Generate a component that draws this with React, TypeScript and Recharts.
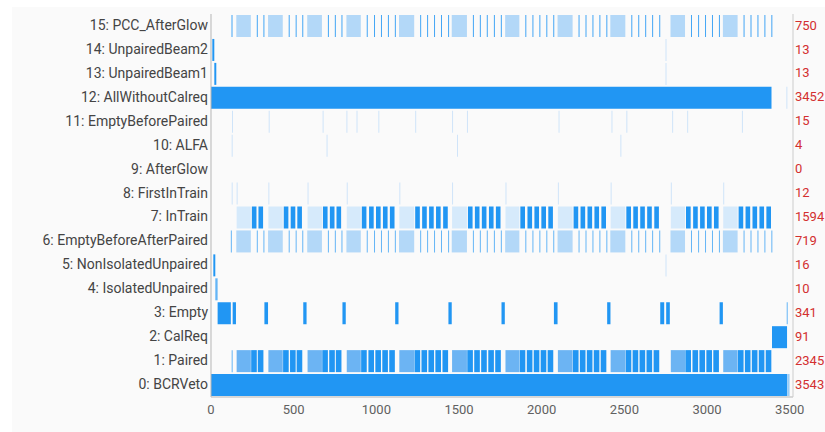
import { BarChart, Bar, Cell, XAxis, YAxis } from 'recharts';

const ROW_NAMES = [
  '0: BCRVeto', '1: Paired', '2: CalReq', '3: Empty', '4: IsolatedUnpaired',
  '5: NonIsolatedUnpaired', '6: EmptyBeforeAfterPaired', '7: InTrain', '8: FirstInTrain',
  '9: AfterGlow', '10: ALFA', '11: EmptyBeforePaired', '12: AllWithoutCalreq',
  '13: UnpairedBeam1', '14: UnpairedBeam2', '15: PCC_AfterGlow',
];
const ROW_COUNTS = [3543, 2345, 91, 341, 10, 16, 719, 1594, 12, 0, 4, 15, 3452, 13, 13, 750];

const X_TICKS = [0, 500, 1000, 1500, 2000, 2500, 3000, 3500];

// bunch numbers
const GROUP_STARTS = [155, 347, 584, 821, 1139, 1458, 1781, 2098, 2417, 2781, 3098];
const TRAIN_STARTS = [
  [243, 283],
  [436, 478, 518],
  [673, 715, 755],
  [908, 952, 994, 1036, 1078],
  [1231, 1273, 1315, 1357, 1400],
  [1550, 1592, 1634, 1677, 1719],
  [1867, 1910, 1952, 1994, 2036],
  [2189, 2231, 2273, 2315, 2357],
  [2508, 2550, 2592, 2634, 2677],
  [2869, 2912, 2954, 2996, 3038],
  [3187, 3229, 3271, 3313, 3355],
];
const TRAIN_LEN = 34;
const EMPTY_BLOCKS = [
  [40, 120], [131, 151], [323, 345], [558, 578], [795, 815], [1114, 1134], [1436, 1456],
  [1757, 1777], [2074, 2096], [2396, 2416], [2717, 2741], [2753, 2775], [3076, 3096],
];
const EMPTY_BEFORE_PAIRED = [127, 349, 675, 819, 880, 1012, 1235, 1458, 1548, 2102, 2422, 2512, 2789, 2880, 3211];
const ALFA = [125, 699, 1488, 2476];
const ISOLATED = 125;
const LATE_UNPAIRED = 2749;

const DARK = '#2196f3';
const MID = '#6cb4f3';
const LIGHT = '#b3d8f8';
const PALE = '#d6eafb';
const LINE = '#64b5f6';
const LINE2 = '#42a5f5';
const FAINT = '#cfe4f9';

type Seg = { a: number; b: number; c: string };
const seg = (a: number, b: number, c: string): Seg => ({ a, b, c });
const line = (p: number, c: string) => seg(p, p + 6, c);

const lightSections = (c: string, pad = 0) =>
  GROUP_STARTS.map((g, i) => seg(g - pad, TRAIN_STARTS[i][0] - 2, c));
const trains = (c: string, inset = 0, trim = 0) =>
  TRAIN_STARTS.flat().map((t) => seg(t + inset, t + TRAIN_LEN - trim, c));
const trainEnds = (c: string) => TRAIN_STARTS.flat().map((t) => line(t + TRAIN_LEN, c));

const ROW_SEGS: Seg[][] = [
  [seg(0, 3486, DARK), line(3492, LINE)],
  [line(ISOLATED, LINE), ...lightSections(MID), ...trains(DARK)],
  [seg(3393, 3484, DARK)],
  [...EMPTY_BLOCKS.map(([a, b]) => seg(a, b, DARK)), line(3482, LINE)],
  [seg(26, 40, LINE)],
  [seg(14, 26, DARK), line(LATE_UNPAIRED, FAINT)],
  [line(120, LINE), ...lightSections(LIGHT, 2), ...trainEnds(LINE)],
  [...lightSections(PALE), ...trains(DARK, 4, 2)],
  [line(ISOLATED, FAINT), ...GROUP_STARTS.map((g) => line(g, FAINT))],
  [],
  ALFA.map((p) => line(p, FAINT)),
  EMPTY_BEFORE_PAIRED.map((p) => line(p, FAINT)),
  [seg(0, 3390, DARK), line(3480, FAINT)],
  [seg(20, 32, DARK), line(LATE_UNPAIRED, FAINT)],
  [seg(8, 20, DARK), line(LATE_UNPAIRED, FAINT)],
  [line(124, LINE2), ...lightSections(LIGHT, 2), ...trainEnds(LINE2)],
];

const MAX_SEGS = Math.max(...ROW_SEGS.map((s) => s.length));

const rows = ROW_SEGS.map((segs, r) => {
  const o: Record<string, any> = { name: ROW_NAMES[r], count: ROW_COUNTS[r] };
  const sorted = [...segs].sort((p, q) => p.a - q.a);
  let prev = 0;
  for (let i = 0; i < MAX_SEGS; i++) {
    const s = sorted[i];
    if (s) {
      const a = Math.max(s.a, prev);
      o[`g${i}`] = a - prev;
      o[`v${i}`] = Math.max(0, s.b - a);
      o[`c${i}`] = s.c;
      prev = Math.max(prev, s.b);
    } else {
      o[`g${i}`] = 0;
      o[`v${i}`] = 0;
      o[`c${i}`] = 'none';
    }
  }
  return o;
}).reverse();

const countOf = (name: string) => ROW_COUNTS[ROW_NAMES.indexOf(name)];

export default function App() {
  const bars = [];
  for (let i = 0; i < MAX_SEGS; i++) {
    bars.push(
      <Bar key={`g${i}`} dataKey={`g${i}`} stackId="s" yAxisId="left" fill="none" isAnimationActive={false} />
    );
    bars.push(
      <Bar key={`v${i}`} dataKey={`v${i}`} stackId="s" yAxisId="left" isAnimationActive={false}>
        {rows.map((r, j) => (
          <Cell key={j} fill={r[`c${i}`]} />
        ))}
      </Bar>
    );
  }

  return (
    <div
      style={{
        position: 'absolute',
        left: 12,
        top: 7,
        width: 813,
        height: 425,
        background: '#fafafa',
        fontFamily: 'Roboto, sans-serif',
      }}
    >
      <BarChart
        width={813}
        height={425}
        data={rows}
        layout="vertical"
        barCategoryGap={1}
        margin={{ top: 7, right: 0, bottom: 0, left: 0 }}
      >
        <XAxis
          type="number"
          domain={[0, 3520]}
          ticks={X_TICKS}
          allowDataOverflow
          height={35}
          tickSize={0}
          tickMargin={8}
          axisLine={{ stroke: '#b5b5b5' }}
          tick={{ fill: '#616161', fontSize: 13 }}
        />
        <XAxis
          xAxisId="top"
          orientation="top"
          type="number"
          domain={[0, 3520]}
          height={0}
          tick={false}
          tickLine={false}
          axisLine={{ stroke: '#cccccc' }}
        />
        <YAxis
          yAxisId="left"
          type="category"
          dataKey="name"
          width={199}
          tickSize={0}
          tickMargin={3}
          interval={0}
          axisLine={{ stroke: '#b5b5b5' }}
          tick={{ fill: '#444444', fontSize: 14, dy: -1 }}
        />
        <YAxis
          yAxisId="right"
          orientation="right"
          type="category"
          dataKey="name"
          width={32}
          tickSize={0}
          tickMargin={2}
          interval={0}
          tickFormatter={(v: string) => String(countOf(v))}
          axisLine={{ stroke: '#cccccc' }}
          tick={{ fill: '#d32f2f', fontSize: 13, dy: -1 }}
        />
        {bars}
      </BarChart>
    </div>
  );
}
